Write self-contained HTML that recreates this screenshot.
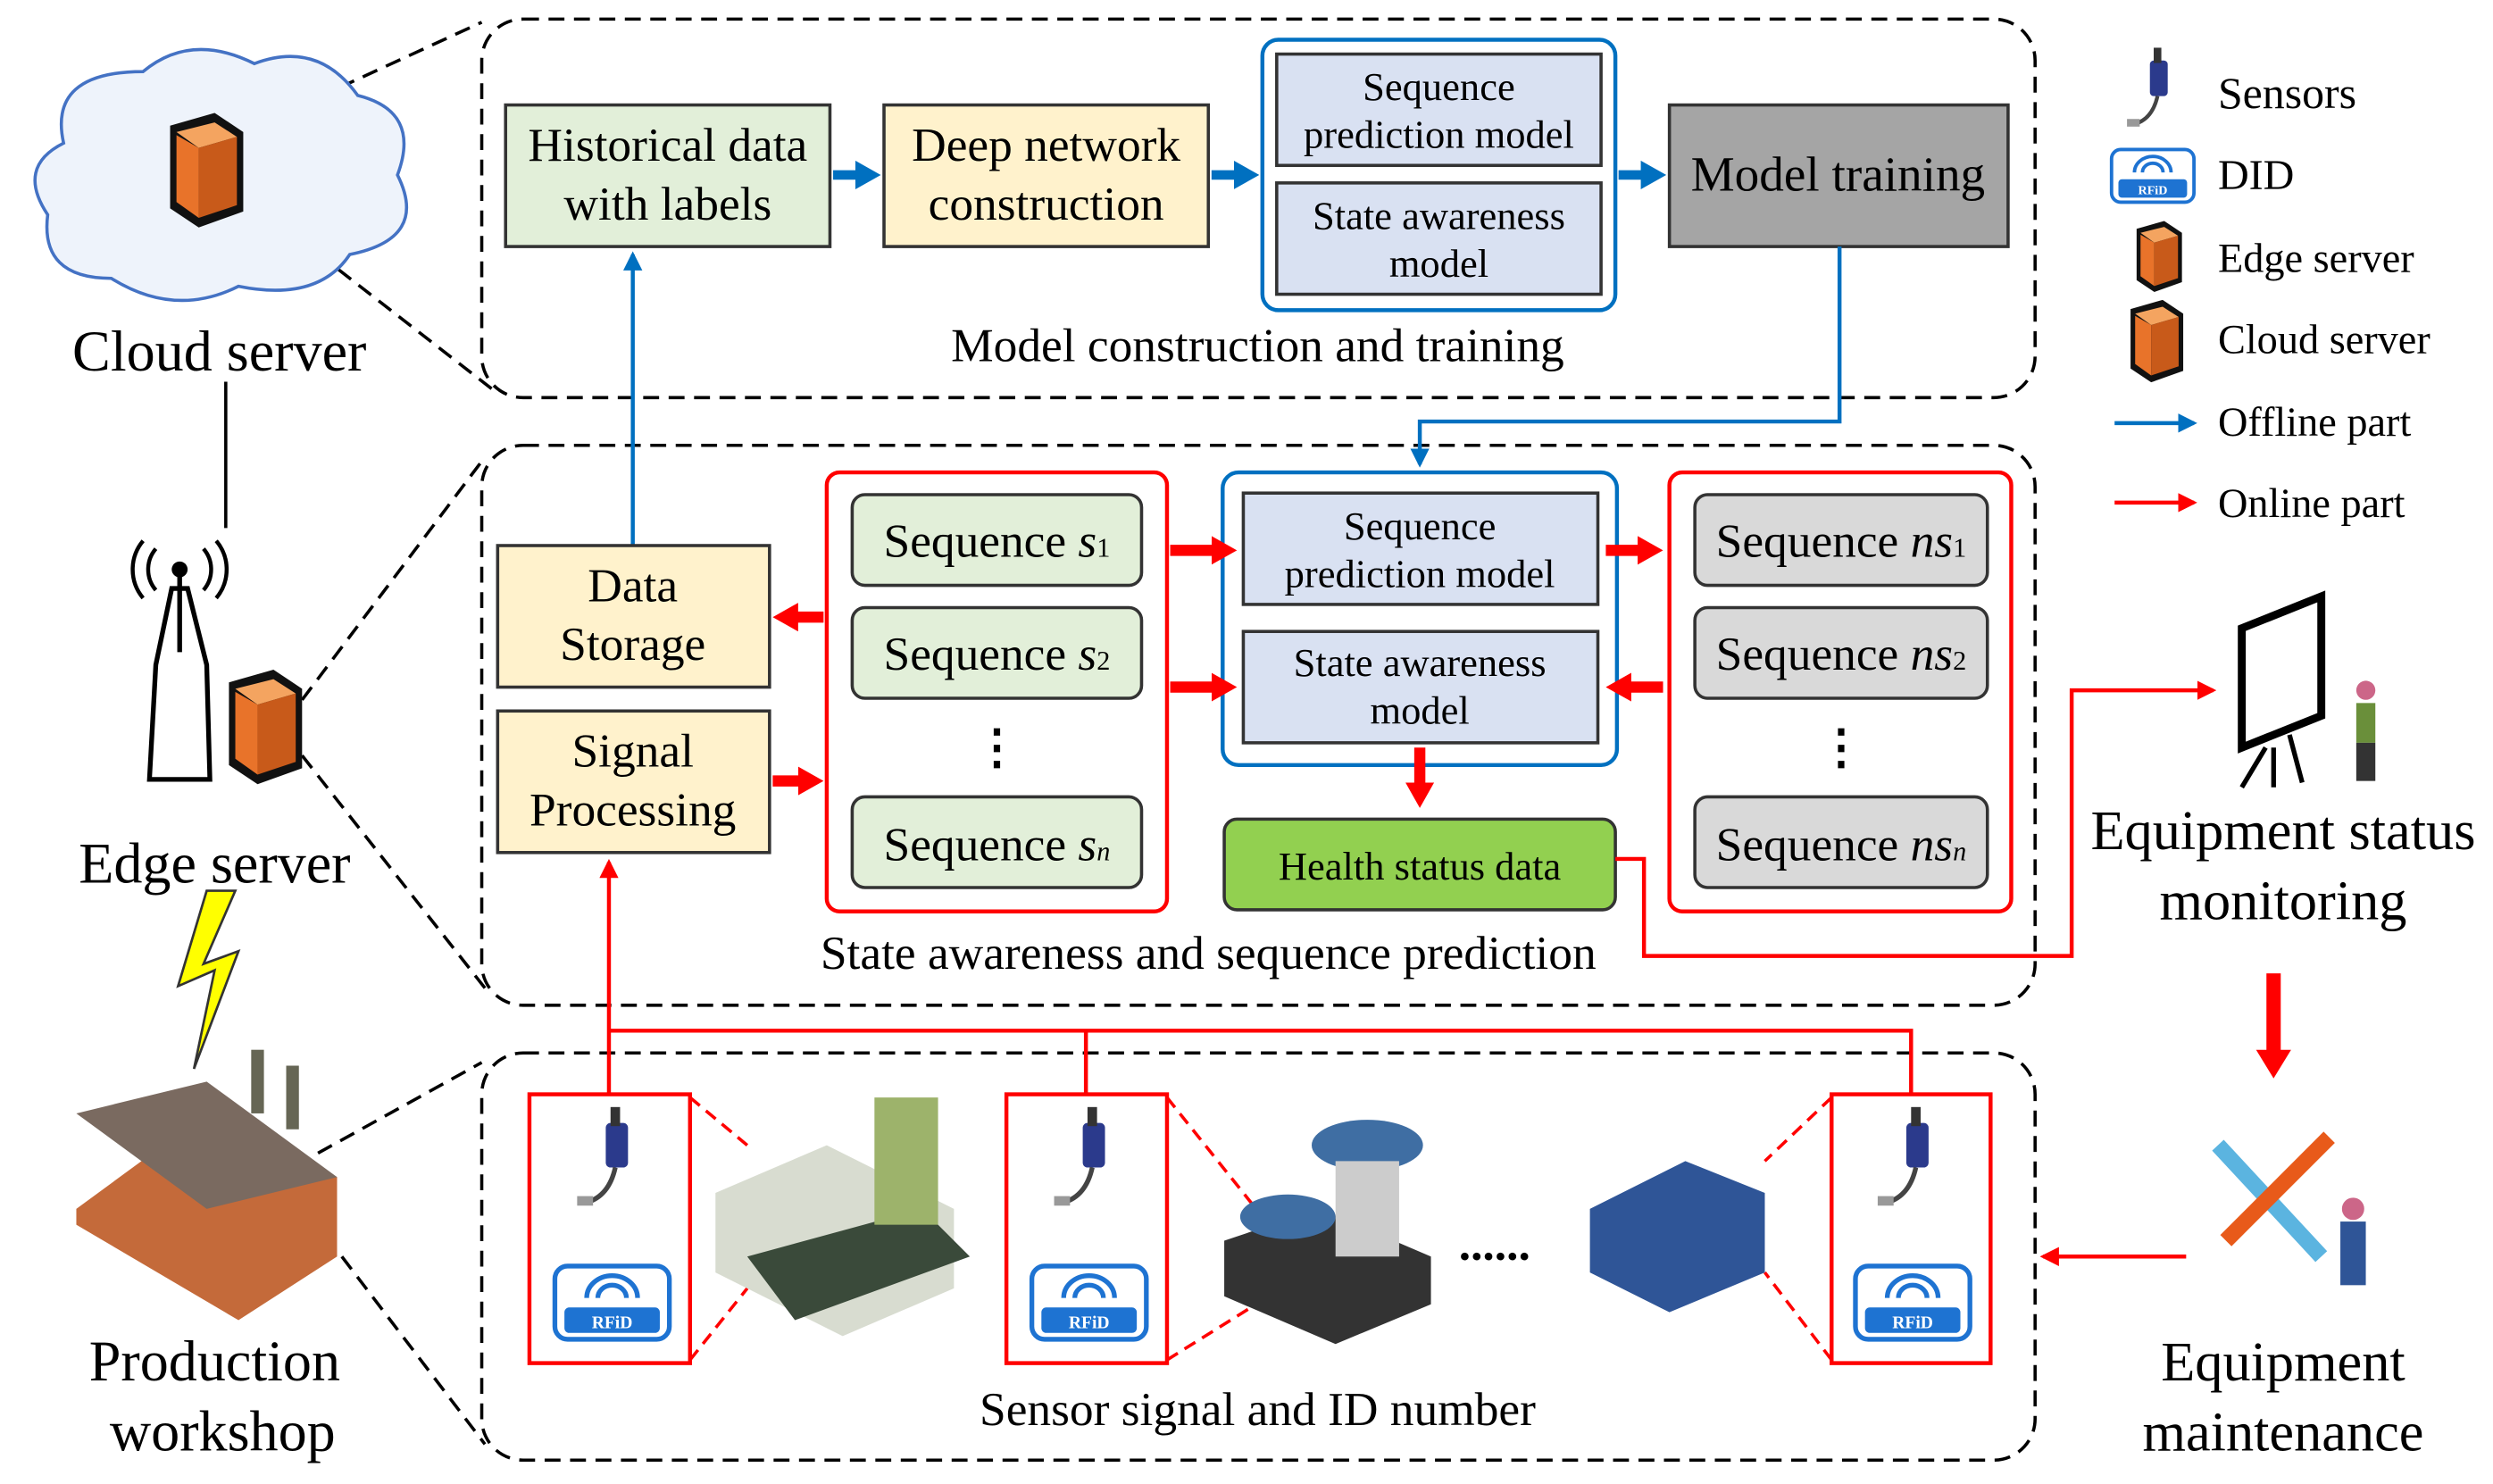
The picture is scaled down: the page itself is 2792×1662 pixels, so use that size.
<!DOCTYPE html>
<html><head><meta charset="utf-8"><style>
html,body{margin:0;padding:0;background:#fff}
svg{display:block}
text{font-family:"Liberation Serif",serif;fill:#000}
</style></head><body>
<svg width="2792" height="1662" viewBox="0 0 1568 933" preserveAspectRatio="none" xmlns="http://www.w3.org/2000/svg">
<defs>
<marker id="ab" markerWidth="12" markerHeight="12" refX="10" refY="6" orient="auto" markerUnits="userSpaceOnUse"><path d="M0,0L12,6L0,12z" fill="#0070c0"/></marker>
<marker id="ar" markerWidth="12" markerHeight="12" refX="10" refY="6" orient="auto" markerUnits="userSpaceOnUse"><path d="M0,0L12,6L0,12z" fill="#f00"/></marker>
<marker id="abt" markerWidth="16" markerHeight="18" refX="8" refY="9" orient="auto" markerUnits="userSpaceOnUse"><path d="M0,0L16,9L0,18z" fill="#0070c0"/></marker>
<marker id="art" markerWidth="16" markerHeight="18" refX="8" refY="9" orient="auto" markerUnits="userSpaceOnUse"><path d="M0,0L16,9L0,18z" fill="#f00"/></marker>
<marker id="artb" markerWidth="18" markerHeight="22" refX="8" refY="11" orient="auto" markerUnits="userSpaceOnUse"><path d="M0,0L18,11L0,22z" fill="#f00"/></marker>
<g id="sensor"><rect x="-6" y="0" width="14" height="28" rx="3" fill="#2b3a8c"/><rect x="-3" y="-10" width="6" height="12" fill="#333"/><path d="M0,28 q-4,18 -18,22" stroke="#444" stroke-width="3" fill="none"/><rect x="-24" y="46" width="10" height="6" fill="#999"/></g>
<g id="rfid"><rect x="-36" y="0" width="72" height="46" rx="8" fill="#fff" stroke="#1e73d2" stroke-width="3"/><rect x="-30" y="26" width="60" height="16" rx="3" fill="#1e73d2"/><text x="0" y="39" font-family="Liberation Sans" font-size="11" font-weight="bold" text-anchor="middle" style="fill:#fff">RFiD</text><path d="M-16,20 a16,14 0 0 1 32,0 M-9,20 a9,8 0 0 1 18,0" stroke="#1e73d2" stroke-width="3" fill="none"/></g>
<g id="server"><path d="M-18,-26 L10,-34 L28,-22 L28,28 L0,38 L-18,26z" fill="#111"/><path d="M-14,-22 L10,-28 L24,-19 L0,-12z" fill="#f4a460"/><path d="M-14,-20 L0,-12 L0,32 L-14,22z" fill="#e8732a"/><path d="M0,-12 L24,-19 L24,24 L0,32z" fill="#c85a1a"/></g>
</defs>

<g fill="none" stroke="#000" stroke-width="2" stroke-dasharray="10,6">
<rect x="303" y="12" width="977" height="238" rx="26"/>
<rect x="303" y="280" width="977" height="352" rx="26"/>
<rect x="303" y="662" width="977" height="256" rx="26"/>
<line x1="170" y1="75" x2="303" y2="14"/><line x1="175" y1="140" x2="310" y2="245"/>
<line x1="190" y1="440" x2="303" y2="290"/><line x1="190" y1="475" x2="308" y2="625"/>
<line x1="200" y1="725" x2="303" y2="668"/><line x1="215" y1="790" x2="305" y2="908"/>
</g>

<rect x="318" y="66" width="204" height="89" fill="#e2efd9" stroke="#333" stroke-width="2"/>
<text x="420" y="101" font-size="30" text-anchor="middle">Historical data</text>
<text x="420" y="138" font-size="30" text-anchor="middle">with labels</text>
<rect x="556" y="66" width="204" height="89" fill="#fff2cc" stroke="#333" stroke-width="2"/>
<text x="658" y="101" font-size="30" text-anchor="middle">Deep network</text>
<text x="658" y="138" font-size="30" text-anchor="middle">construction</text>
<rect x="794" y="25" width="222" height="170" rx="10" fill="none" stroke="#0070c0" stroke-width="2.5"/>
<rect x="803" y="34" width="204" height="70" fill="#d9e1f2" stroke="#333" stroke-width="2"/>
<text x="905" y="63" font-size="25" text-anchor="middle">Sequence</text>
<text x="905" y="93" font-size="25" text-anchor="middle">prediction model</text>
<rect x="803" y="115" width="204" height="70" fill="#d9e1f2" stroke="#333" stroke-width="2"/>
<text x="905" y="144" font-size="25" text-anchor="middle">State awareness</text>
<text x="905" y="174" font-size="25" text-anchor="middle">model</text>
<rect x="1050" y="66" width="213" height="89" fill="#a5a5a5" stroke="#333" stroke-width="2"/>
<text x="1156" y="120" font-size="31" text-anchor="middle">Model training</text>
<g stroke="#0070c0" stroke-width="6" fill="none">
<line x1="524" y1="110" x2="546" y2="110" marker-end="url(#abt)"/>
<line x1="762" y1="110" x2="784" y2="110" marker-end="url(#abt)"/>
<line x1="1018" y1="110" x2="1040" y2="110" marker-end="url(#abt)"/>
</g>
<text x="791" y="227" font-size="30" text-anchor="middle">Model construction and training</text>

<g stroke="#0070c0" stroke-width="2.5" fill="none">
<polyline points="1157,155 1157,265 893,265 893,292" marker-end="url(#ab)"/>
<line x1="398" y1="343" x2="398" y2="160" marker-end="url(#ab)"/>
</g>

<rect x="313" y="343" width="171" height="89" fill="#fff2cc" stroke="#333" stroke-width="2"/>
<text x="398" y="378" font-size="30" text-anchor="middle">Data</text>
<text x="398" y="415" font-size="30" text-anchor="middle">Storage</text>
<rect x="313" y="447" width="171" height="89" fill="#fff2cc" stroke="#333" stroke-width="2"/>
<text x="398" y="482" font-size="30" text-anchor="middle">Signal</text>
<text x="398" y="519" font-size="30" text-anchor="middle">Processing</text>

<rect x="520" y="297" width="214" height="276" rx="8" fill="none" stroke="#f00" stroke-width="2.5"/>
<g fill="#e2efd9" stroke="#333" stroke-width="2">
<rect x="536" y="311" width="182" height="57" rx="8"/><rect x="536" y="382" width="182" height="57" rx="8"/><rect x="536" y="501" width="182" height="57" rx="8"/>
</g>
<text x="627" y="350" font-size="30" text-anchor="middle">Sequence <tspan font-style="italic">s</tspan><tspan font-size="17">1</tspan></text>
<text x="627" y="421" font-size="30" text-anchor="middle">Sequence <tspan font-style="italic">s</tspan><tspan font-size="17">2</tspan></text>
<text x="627" y="541" font-size="30" text-anchor="middle">Sequence <tspan font-style="italic">s</tspan><tspan font-size="17" font-style="italic">n</tspan></text>
<text x="627" y="480" font-size="30" text-anchor="middle" font-weight="bold">⋮</text>

<rect x="769" y="297" width="248" height="184" rx="10" fill="none" stroke="#0070c0" stroke-width="2.5"/>
<rect x="782" y="310" width="223" height="70" fill="#d9e1f2" stroke="#333" stroke-width="2"/>
<text x="893" y="339" font-size="25" text-anchor="middle">Sequence</text>
<text x="893" y="369" font-size="25" text-anchor="middle">prediction model</text>
<rect x="782" y="397" width="223" height="70" fill="#d9e1f2" stroke="#333" stroke-width="2"/>
<text x="893" y="425" font-size="25" text-anchor="middle">State awareness</text>
<text x="893" y="455" font-size="25" text-anchor="middle">model</text>
<rect x="770" y="515" width="246" height="57" rx="8" fill="#92d050" stroke="#333" stroke-width="2"/>
<text x="893" y="553" font-size="25" text-anchor="middle">Health status data</text>

<rect x="1050" y="297" width="215" height="276" rx="8" fill="none" stroke="#f00" stroke-width="2.5"/>
<g fill="#d9d9d9" stroke="#333" stroke-width="2">
<rect x="1066" y="311" width="184" height="57" rx="8"/><rect x="1066" y="382" width="184" height="57" rx="8"/><rect x="1066" y="501" width="184" height="57" rx="8"/>
</g>
<text x="1158" y="350" font-size="30" text-anchor="middle">Sequence <tspan font-style="italic">ns</tspan><tspan font-size="17">1</tspan></text>
<text x="1158" y="421" font-size="30" text-anchor="middle">Sequence <tspan font-style="italic">ns</tspan><tspan font-size="17">2</tspan></text>
<text x="1158" y="541" font-size="30" text-anchor="middle">Sequence <tspan font-style="italic">ns</tspan><tspan font-size="17" font-style="italic">n</tspan></text>
<text x="1158" y="480" font-size="30" text-anchor="middle" font-weight="bold">⋮</text>

<g stroke="#f00" stroke-width="7" fill="none">
<line x1="736" y1="346" x2="770" y2="346" marker-end="url(#art)"/>
<line x1="736" y1="432" x2="770" y2="432" marker-end="url(#art)"/>
<line x1="1010" y1="346" x2="1038" y2="346" marker-end="url(#art)"/>
<line x1="1046" y1="432" x2="1018" y2="432" marker-end="url(#art)"/>
<line x1="518" y1="388" x2="494" y2="388" marker-end="url(#art)"/>
<line x1="486" y1="491" x2="510" y2="491" marker-end="url(#art)"/>
<line x1="893" y1="470" x2="893" y2="500" marker-end="url(#art)"/>
<line x1="1430" y1="612" x2="1430" y2="668" marker-end="url(#artb)" stroke-width="9"/>
</g>
<text x="760" y="609" font-size="30" text-anchor="middle">State awareness and sequence prediction</text>

<g stroke="#f00" stroke-width="2.5" fill="none">
<polyline points="1016,540 1034,540 1034,601 1303,601 1303,434 1392,434" marker-end="url(#ar)"/>
<polyline points="383,688 383,542" marker-end="url(#ar)"/>
<polyline points="383,648 1202,648 1202,688"/>
<line x1="683" y1="648" x2="683" y2="688"/>
<line x1="1375" y1="790" x2="1285" y2="790" marker-end="url(#ar)"/>
</g>

<g fill="none" stroke="#f00" stroke-width="2.5">
<rect x="333" y="688" width="101" height="169"/><rect x="633" y="688" width="101" height="169"/><rect x="1152" y="688" width="100" height="169"/>
</g>
<g stroke="#f00" stroke-width="2" stroke-dasharray="8,5" fill="none">
<line x1="434" y1="690" x2="470" y2="720"/><line x1="434" y1="855" x2="470" y2="810"/>
<line x1="734" y1="690" x2="790" y2="760"/><line x1="734" y1="855" x2="790" y2="820"/>
<line x1="1152" y1="690" x2="1110" y2="730"/><line x1="1152" y1="855" x2="1110" y2="800"/>
</g>
<use href="#sensor" x="387" y="706"/><use href="#rfid" x="385" y="796"/>
<use href="#sensor" x="687" y="706"/><use href="#rfid" x="685" y="796"/>
<use href="#sensor" x="1205" y="706"/><use href="#rfid" x="1203" y="796"/>
<g>
<path d="M450,750 L520,720 L600,760 L600,810 L530,840 L450,800z" fill="#d8dcd0"/>
<path d="M470,790 L580,760 L610,790 L500,830z" fill="#3a4a3a"/>
<rect x="550" y="690" width="40" height="80" fill="#9db36b"/>
<path d="M770,780 L830,760 L900,790 L900,820 L840,845 L770,815z" fill="#333"/>
<ellipse cx="860" cy="720" rx="35" ry="16" fill="#3f6ea3"/><ellipse cx="810" cy="765" rx="30" ry="14" fill="#3f6ea3"/>
<rect x="840" y="730" width="40" height="60" fill="#ccc"/>
<path d="M1000,760 L1060,730 L1110,750 L1110,800 L1050,825 L1000,800z" fill="#2f5597"/>
</g>
<text x="940" y="792" font-size="30" text-anchor="middle" font-weight="bold">......</text>
<text x="791" y="896" font-size="30" text-anchor="middle">Sensor signal and ID number</text>

<path d="M40,90 q-10,-45 50,-45 q30,-25 70,-5 q40,-15 65,20 q40,10 25,50 q20,40 -30,50 q-20,30 -70,20 q-40,20 -80,-5 q-45,0 -40,-40 q-20,-30 10,-45z" fill="#eef3fb" stroke="#4472c4" stroke-width="2"/>
<use href="#server" x="125" y="105"/>
<text x="138" y="233" font-size="36" text-anchor="middle">Cloud server</text>
<line x1="142" y1="240" x2="142" y2="332" stroke="#000" stroke-width="2"/>
<path d="M98,418 L108,370 L118,370 L130,418 L132,490 L94,490z" fill="#fff" stroke="#000" stroke-width="3"/>
<line x1="113" y1="360" x2="113" y2="410" stroke="#000" stroke-width="3"/><circle cx="113" cy="358" r="5" fill="#000"/>
<path d="M98,345 a20,20 0 0 0 0,26 M128,345 a20,20 0 0 1 0,26 M90,340 a28,28 0 0 0 0,36 M136,340 a28,28 0 0 1 0,36" stroke="#000" stroke-width="2.5" fill="none"/>
<use href="#server" x="162" y="455"/>
<text x="135" y="555" font-size="36" text-anchor="middle">Edge server</text>
<path d="M130,560 L112,620 L135,610 L122,672 L150,598 L128,606 L148,560z" fill="#ffff00" stroke="#333" stroke-width="1.5"/>
<path d="M48,760 L130,700 L212,740 L212,790 L150,830 L48,770z" fill="#c46a3a"/>
<path d="M48,700 L130,680 L212,740 L130,760z" fill="#7a6a60"/>
<rect x="158" y="660" width="8" height="40" fill="#665"/><rect x="180" y="670" width="8" height="40" fill="#665"/>
<text x="135" y="868" font-size="36" text-anchor="middle">Production</text>
<text x="140" y="912" font-size="36" text-anchor="middle">workshop</text>

<path d="M1410,395 L1460,375 L1460,450 L1410,470z" fill="#fff" stroke="#000" stroke-width="5"/>
<path d="M1425,470 L1410,495 M1440,462 L1448,492 M1430,470 L1430,495" stroke="#000" stroke-width="3"/>
<circle cx="1488" cy="434" r="6" fill="#c68"/><rect x="1482" y="442" width="12" height="25" fill="#6a8f3a"/><rect x="1482" y="467" width="12" height="24" fill="#333"/>
<text x="1436" y="534" font-size="35" text-anchor="middle">Equipment status</text>
<text x="1436" y="578" font-size="35" text-anchor="middle">monitoring</text>
<path d="M1395,720 L1460,790" stroke="#5bb4e0" stroke-width="10"/><path d="M1465,715 L1400,780" stroke="#e85a1a" stroke-width="10"/>
<circle cx="1480" cy="760" r="7" fill="#c68"/><rect x="1472" y="768" width="16" height="40" fill="#2f5597"/>
<text x="1436" y="868" font-size="35" text-anchor="middle">Equipment</text>
<text x="1436" y="912" font-size="35" text-anchor="middle">maintenance</text>

<g transform="translate(1357,38) scale(0.8)"><use href="#sensor"/></g>
<text x="1395" y="68" font-size="28">Sensors</text>
<g transform="translate(1354,94) scale(0.72)"><use href="#rfid"/></g>
<text x="1395" y="119" font-size="27">DID</text>
<g transform="translate(1355,160) scale(0.62)"><use href="#server"/></g>
<text x="1395" y="171" font-size="26">Edge server</text>
<g transform="translate(1353,213) scale(0.72)"><use href="#server"/></g>
<text x="1395" y="222" font-size="26">Cloud server</text>
<line x1="1330" y1="266" x2="1380" y2="266" stroke="#0070c0" stroke-width="2.5" marker-end="url(#ab)"/>
<text x="1395" y="274" font-size="26">Offline part</text>
<line x1="1330" y1="316" x2="1380" y2="316" stroke="#f00" stroke-width="2.5" marker-end="url(#ar)"/>
<text x="1395" y="325" font-size="26">Online part</text>
</svg>
</body></html>
